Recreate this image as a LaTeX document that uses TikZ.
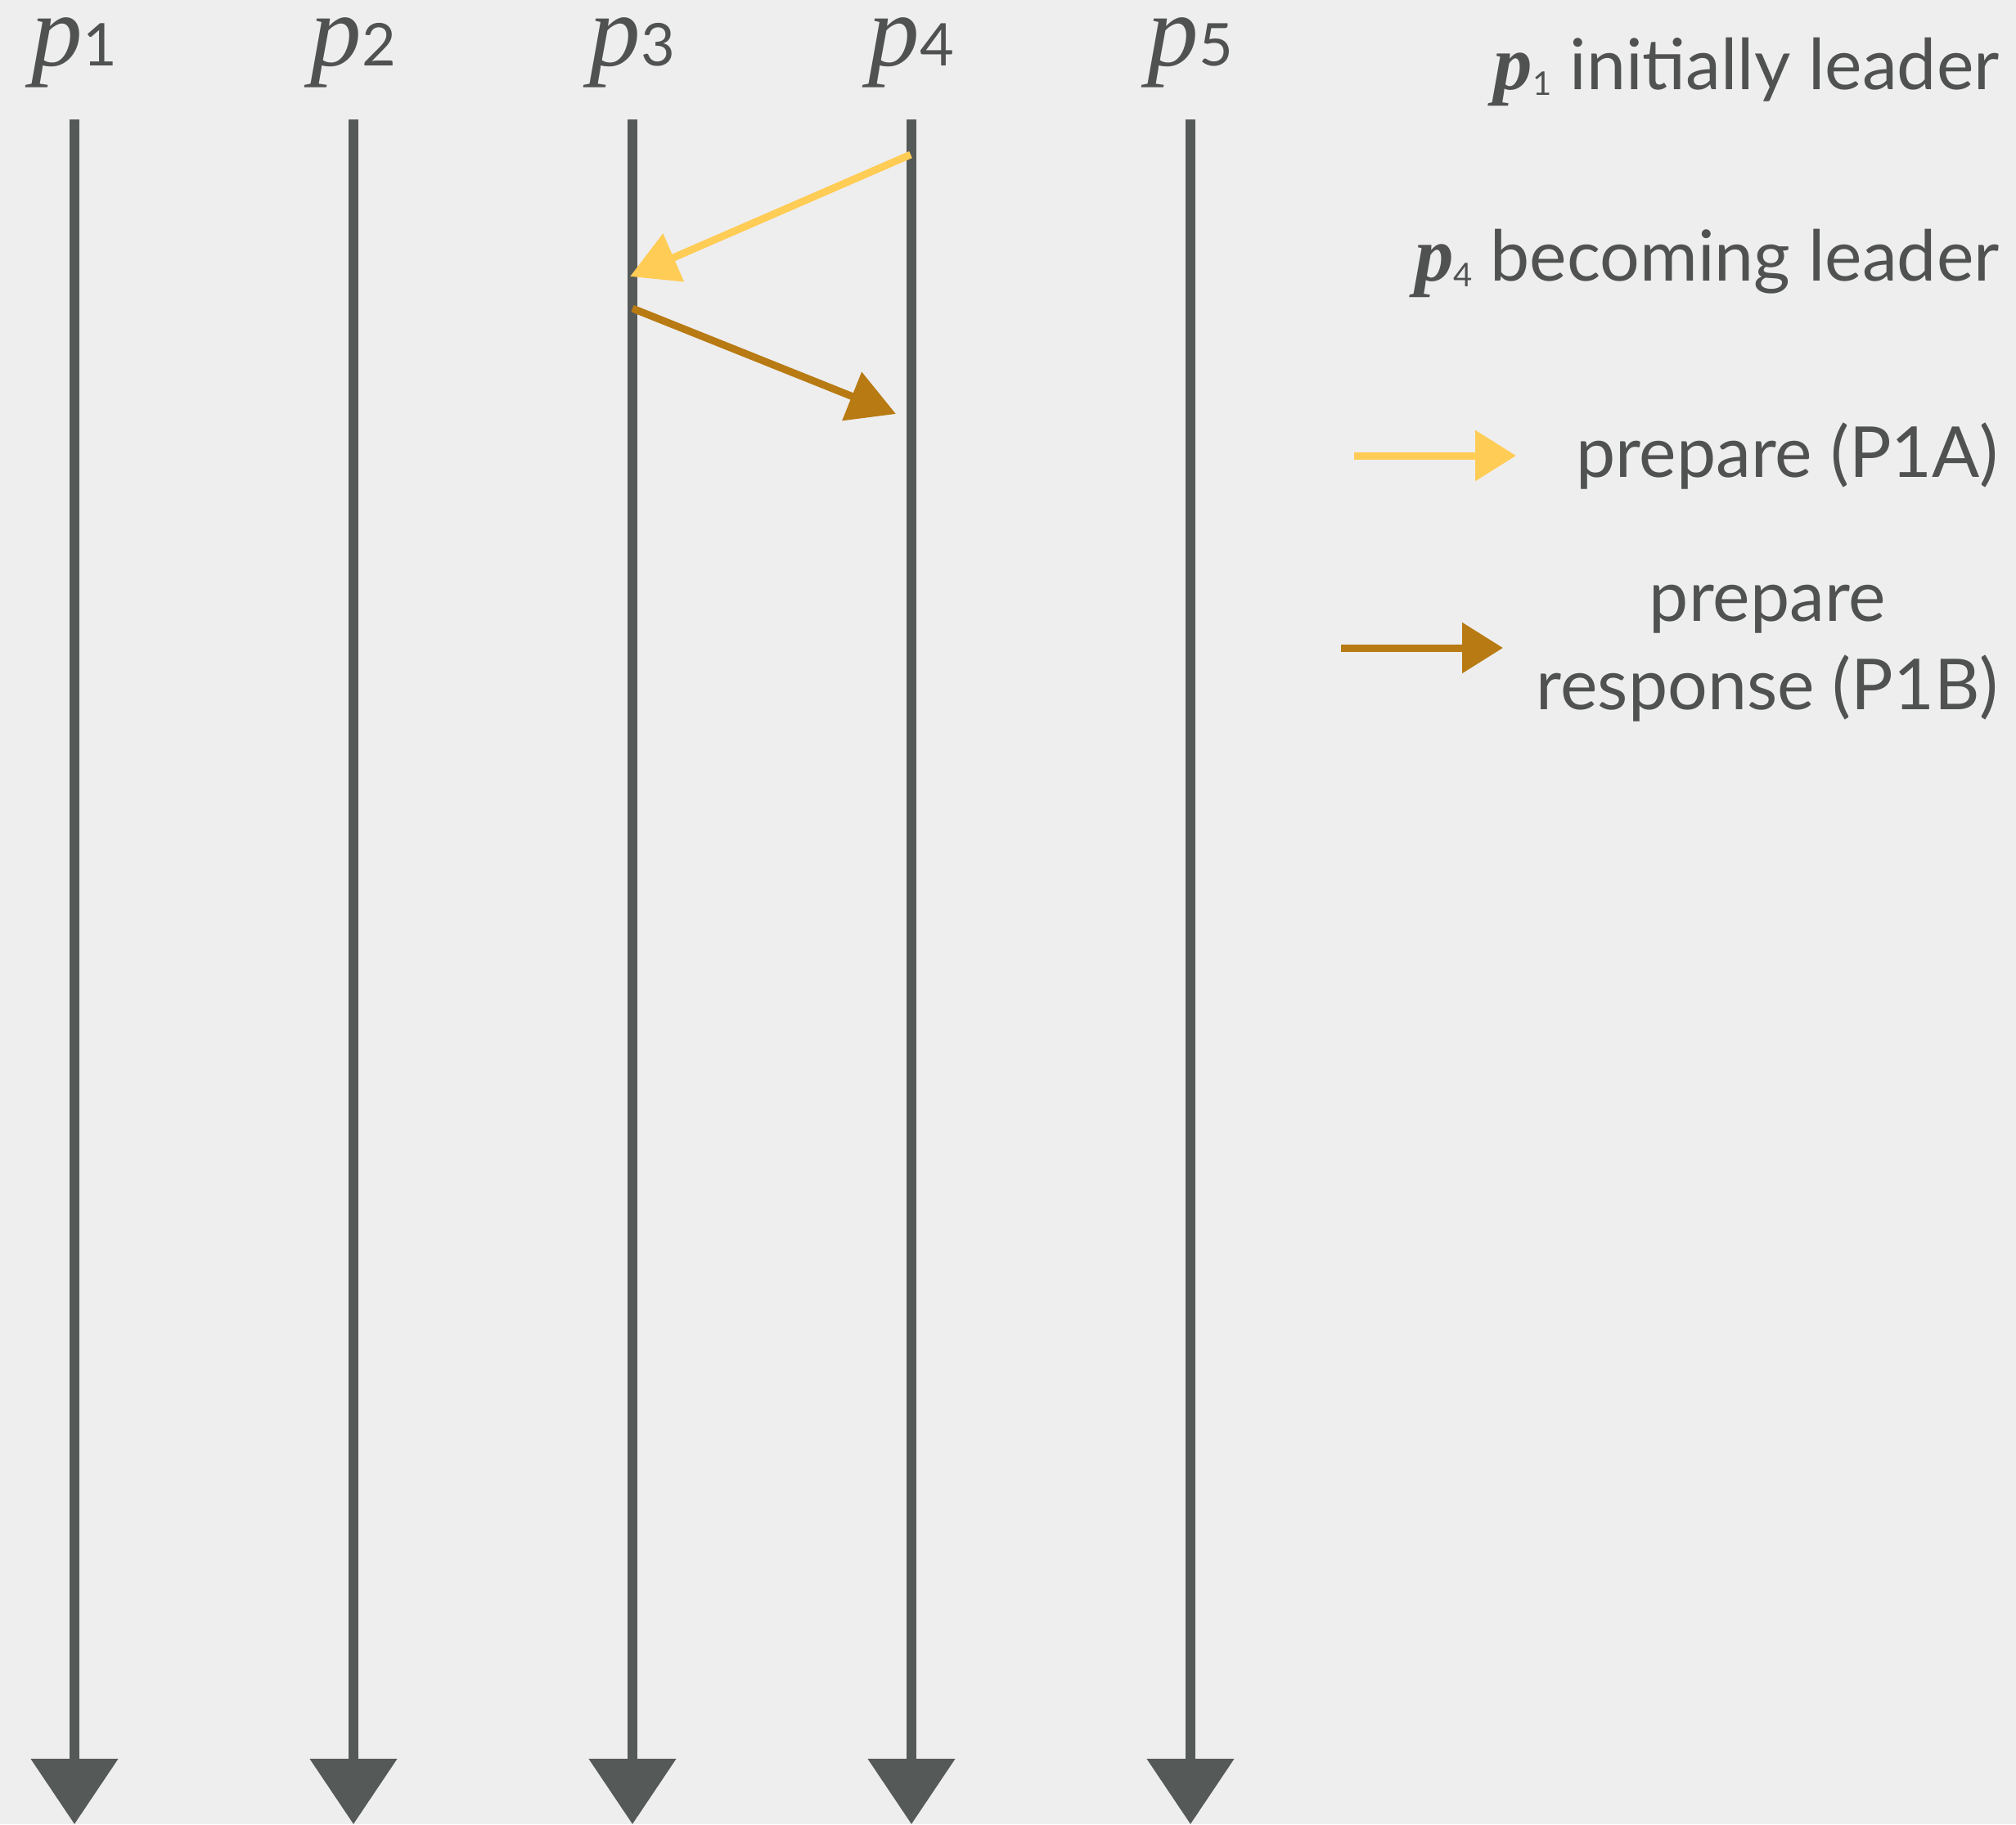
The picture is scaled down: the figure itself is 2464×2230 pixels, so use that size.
\documentclass[tikz,border=0pt]{standalone}
\usepackage{fontspec}
\setmainfont{Lato}
\newfontfamily\pfont{Liberation Serif}
\usetikzlibrary{arrows.meta,calc}
\definecolor{bg}{RGB}{238,238,238}
\definecolor{ink}{RGB}{85,89,88}
\definecolor{txt}{RGB}{80,82,81}
\definecolor{yel}{RGB}{255,204,85}
\definecolor{brn}{RGB}{184,122,18}
\newcommand{\legp}[1]{{\fontsize{95}{100}\selectfont\pfont\bfseries\itshape p}{\fontsize{40}{40}\selectfont\raisebox{-7pt}{#1}}}
\begin{document}
\begin{tikzpicture}[x=1pt,y=-1pt,
  life/.style={draw=ink,line width=12pt,-{Triangle[length=80pt,width=104pt]}},
  msg/.style={line width=9pt,-{Triangle[length=58pt,width=62pt]}},
  plabel/.style={anchor=base,text=txt,inner sep=0pt},
  legend/.style={anchor=base east,text=txt,inner sep=0pt,font=\fontsize{86}{100}\selectfont}]
\fill[bg] (0,0) rectangle (2464,2230);
\useasboundingbox (0,0) rectangle (2464,2230);
% lifelines
\foreach \i/\x in {1/91,2/432,3/773,4/1114,5/1455}{
  \coordinate (t\i) at (\x,146);
  \coordinate (b\i) at (\x,2230);
  \node[plabel] (l\i) at (\x,80) {{\fontsize{125}{130}\selectfont\pfont\itshape p}{\fontsize{72}{72}\selectfont\i}};
  \draw[life] (t\i) -- (b\i);
}
% messages
\coordinate (m1s) at (1113,189);
\coordinate (m1e) at (770,338);
\coordinate (m2s) at (773,377);
\coordinate (m2e) at (1095,506);
\draw[msg,draw=yel,fill=yel] (m1s) -- (m1e);
\draw[msg,draw=brn,fill=brn] (m2s) -- (m2e);
% legend
\node[legend] (lg1) at (2444,109) {\legp{1}\ initially leader};
\node[legend] (lg2) at (2444,343) {\legp{4} becoming leader};
\node[legend] (lg3) at (2443,583) {prepare (P1A)};
\node[legend] (lg5) at (2443,867) {response (P1B)};
\node[legend,anchor=base] (lg4) at ($(lg5.base)+(0,-108)$) {prepare};
\coordinate (ya1) at (1655,557);
\coordinate (ya2) at (1853,557);
\coordinate (ba1) at (1639,792);
\coordinate (ba2) at (1837,792);
\draw[msg,draw=yel,fill=yel,-{Triangle[length=50pt,width=60pt]}] (ya1) -- (ya2);
\draw[msg,draw=brn,fill=brn,-{Triangle[length=50pt,width=60pt]}] (ba1) -- (ba2);
\end{tikzpicture}
\end{document}
